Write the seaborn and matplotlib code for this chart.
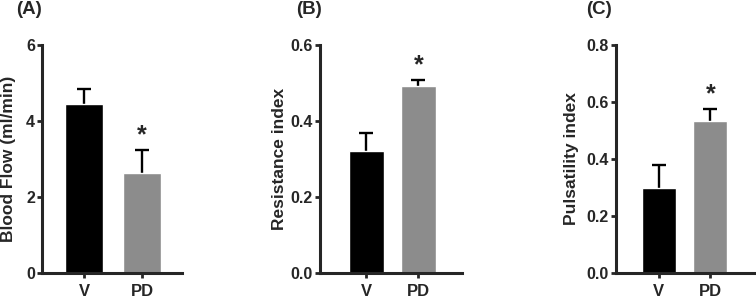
import numpy as np
import pandas as pd
import matplotlib
matplotlib.use("Agg")
import matplotlib.pyplot as plt
import seaborn as sns

# values (mean and upper SEM)
groups = ["V", "PD"]
flow_mean = [4.45, 2.63]
flow_err = [0.38, 0.60]
ri_mean = [0.322, 0.492]
ri_err = [0.047, 0.016]
pi_mean = [0.30, 0.533]
pi_err = [0.08, 0.043]

panel_letters = ["(A)", "(B)", "(C)"]
ylabels = ["Blood Flow (ml/min)", "Resistance index", "Pulsatility index"]
yticks = [[0, 2, 4, 6], [0.0, 0.2, 0.4, 0.6], [0.0, 0.2, 0.4, 0.6, 0.8]]
yfmt = ["{:.0f}", "{:.1f}", "{:.1f}"]
ylims = [6, 0.6, 0.8]
stars = [[False, True], [False, True], [False, True]]

sns.set_theme(style="ticks")
plt.rcParams["font.family"] = ["Liberation Sans", "DejaVu Sans"]
plt.rcParams["font.weight"] = "bold"

W, H = 756, 298
fig = plt.figure(figsize=(W / 100, H / 100), dpi=100)

boxes = [
    [42 / W, 25 / H, 140 / W, 228 / H],
    [320 / W, 25 / H, 142 / W, 228 / H],
    [616 / W, 25 / H, 140 / W, 228 / H],
]
xlims = [(-0.724, 1.69), (-0.894, 1.837), (-0.835, 1.89)]
widths = [0.655, 0.67, 0.67]
label_x = [-0.186, -0.232, -0.264]
letter_x = [16, 296, 586]

means = [flow_mean, ri_mean, pi_mean]
errs = [flow_err, ri_err, pi_err]

for i in range(3):
    ax = fig.add_axes(boxes[i])
    df = pd.DataFrame({"group": groups, "value": means[i]})
    sns.barplot(data=df, x="group", y="value", hue="group",
                palette=["#000000", "#8c8c8c"], errorbar=None,
                width=widths[i], legend=False, ax=ax, saturation=1)
    eb = ax.errorbar([0, 1], means[i], yerr=[np.zeros(2), errs[i]], fmt="none",
                     ecolor="black", elinewidth=1.7, capsize=5, capthick=1.7,
                     zorder=1)
    eb[1][0].set_visible(False)  # no cap at the bar top
    for p in ax.patches:
        p.set_zorder(2)
    for j in range(2):
        if stars[i][j]:
            top = means[i][j] + errs[i][j]
            ax.text(j, top + ylims[i] * 0.012, "*", ha="center", va="bottom",
                    fontsize=18, fontweight="bold")
    ax.set_xlim(*xlims[i])
    ax.set_ylim(0, ylims[i])
    ax.set_yticks(yticks[i])
    ax.set_yticklabels([yfmt[i].format(t) for t in yticks[i]])
    ax.set_xlabel("")
    ax.set_ylabel(ylabels[i], fontsize=12.5, fontweight="bold")
    ax.yaxis.set_label_coords(label_x[i], 0.5)
    ax.tick_params(axis="both", width=2, length=3.6)
    ax.tick_params(axis="y", labelsize=11.5, pad=1.5)
    ax.tick_params(axis="x", labelsize=12, pad=4)
    for lab in ax.get_xticklabels() + ax.get_yticklabels():
        lab.set_fontweight("bold")
    for s in ["left", "bottom"]:
        ax.spines[s].set_linewidth(2.2)
    sns.despine(ax=ax)
    fig.text(letter_x[i] / W, 1 - 1 / H, panel_letters[i], ha="left", va="top",
             fontsize=13.5, fontweight="bold")

fig.savefig("out.png", dpi=100)
